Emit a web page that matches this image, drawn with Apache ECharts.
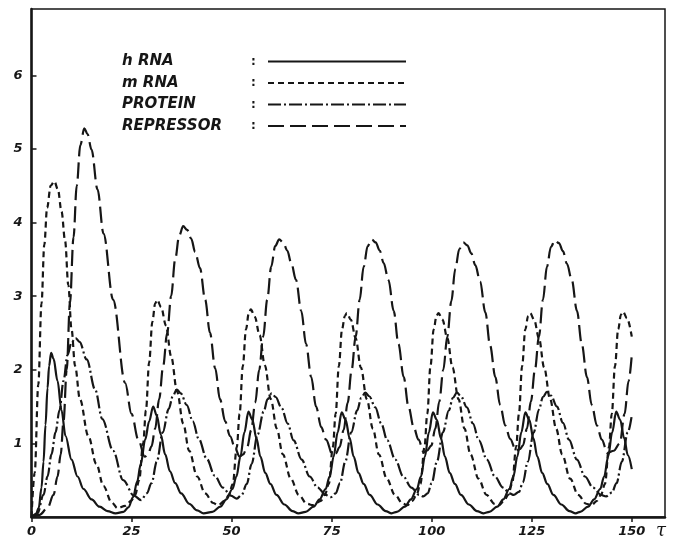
<!DOCTYPE html>
<html>
<head>
<meta charset="utf-8">
<title>hRNA / mRNA / protein / repressor</title>
<script src="https://cdn.jsdelivr.net/npm/echarts@6/dist/echarts.min.js"></script>
<style>
	html, body { margin: 0; padding: 0; background: #fff; }
	#chart { width: 675px; height: 541px; }
</style>
</head>
<body>
<div id="chart"></div>
<script>
// values: [tau, concentration]
var seriesNames = ['h RNA', 'm RNA', 'PROTEIN', 'REPRESSOR'];
var xTicks = [0, 25, 50, 75, 100, 125, 150];
var yTicks = [1, 2, 3, 4, 5, 6];

var hRna = [
	[0,0],[1,0.02],[1.8,0.12],[2.5,0.4],[3,0.75],[3.5,1.25],[4,1.75],[4.4,2.05],[4.9,2.23],[5.5,2.15],[6.5,1.85],[7.5,1.45],[8.5,1.1],[10,0.78],[11.5,0.55],[13,0.38],[15,0.24],[17,0.14],[19,0.08],[21,0.05],
	[23,0.07],[24.2,0.13],[25.4,0.27],[26.4,0.48],[27.3,0.72],[28.4,1.05],[29.4,1.3],[30.4,1.5],[31.3,1.38],[32.3,1.12],[33.4,0.85],[34.6,0.62],[35.9,0.46],[37.4,0.32],[39.4,0.18],[41.4,0.09],[43,0.05],
	[45.2,0.07],[47.2,0.14],[48.7,0.24],[50.2,0.38],[51.2,0.55],[52.2,0.82],[53.2,1.15],[54.2,1.43],[55.2,1.32],[56.2,1.07],[57.2,0.82],[58.4,0.6],[59.7,0.45],[61.2,0.3],[63.2,0.17],[65.2,0.08],[66.7,0.05],
	[68.5,0.07],[70.5,0.14],[72,0.24],[73.5,0.38],[74.5,0.55],[75.5,0.82],[76.5,1.15],[77.5,1.42],[78.5,1.32],[79.5,1.07],[80.5,0.82],[81.7,0.6],[83,0.45],[84.5,0.3],[86.5,0.17],[88.5,0.08],[90,0.05],
	[91.3,0.07],[93.3,0.14],[94.8,0.24],[96.3,0.38],[97.3,0.55],[98.3,0.82],[99.3,1.15],[100.3,1.42],[101.3,1.32],[102.3,1.07],[103.3,0.82],[104.5,0.6],[105.8,0.45],[107.3,0.3],[109.3,0.17],[111.3,0.08],[113,0.05],
	[114.4,0.07],[116.4,0.14],[117.9,0.24],[119.4,0.38],[120.4,0.55],[121.4,0.82],[122.4,1.15],[123.4,1.42],[124.4,1.32],[125.4,1.07],[126.4,0.82],[127.6,0.6],[128.9,0.45],[130.4,0.3],[132.4,0.17],[134.4,0.08],[136,0.05],
	[137.1,0.07],[139.1,0.14],[140.6,0.24],[142.1,0.38],[143.1,0.55],[144.1,0.82],[145.1,1.15],[146.1,1.43],[147.1,1.32],[148.1,1.07],[149,0.84],[150,0.65]
];

var mRna = [
	[0,0],[0.8,0.6],[1.7,1.8],[2.5,2.9],[3.2,3.7],[3.9,4.2],[4.8,4.5],[5.7,4.56],[6.6,4.45],[7.5,4.15],[8.4,3.75],[9.2,3.15],[10,2.55],[10.9,2.05],[12.1,1.6],[14.2,1.1],[16.2,0.72],[18,0.42],[20,0.2],[21.5,0.12],
	[23.4,0.15],[24.9,0.22],[25.9,0.3],[26.9,0.5],[27.9,1.0],[28.6,1.45],[29.4,2.1],[30.2,2.65],[30.9,2.9],[31.4,2.95],[32.4,2.85],[33.6,2.6],[34.9,2.18],[36.4,1.7],[37.9,1.27],[39.4,0.9],[41.4,0.55],[43.4,0.32],[45.4,0.19],[46.6,0.16],
	[48.3,0.22],[49.3,0.3],[50.3,0.45],[51.3,0.95],[52,1.4],[52.8,2.05],[53.6,2.55],[54.3,2.77],[54.8,2.82],[55.8,2.72],[57,2.47],[58.3,2.06],[59.8,1.6],[61.3,1.2],[62.8,0.85],[64.8,0.52],[66.8,0.3],[68.8,0.18],[70.3,0.16],
	[72.3,0.22],[73.3,0.3],[74.3,0.45],[75.3,0.95],[76,1.4],[76.8,2.05],[77.6,2.55],[78.3,2.73],[78.8,2.77],[79.8,2.68],[81,2.43],[82.3,2.03],[83.8,1.6],[85.3,1.2],[86.8,0.85],[88.8,0.52],[90.8,0.3],[92.8,0.18],[93.9,0.16],
	[95.2,0.22],[96.2,0.3],[97.2,0.45],[98.2,0.95],[98.9,1.4],[99.7,2.05],[100.5,2.55],[101.2,2.73],[101.7,2.77],[102.7,2.68],[103.9,2.43],[105.2,2.03],[106.7,1.6],[108.2,1.2],[109.7,0.85],[111.7,0.52],[113.7,0.3],[115.7,0.18],[116.8,0.16],
	[118.1,0.22],[119.1,0.3],[120.1,0.45],[121.1,0.95],[121.8,1.4],[122.6,2.05],[123.4,2.55],[124.1,2.73],[124.6,2.77],[125.6,2.68],[126.8,2.43],[128.1,2.03],[129.6,1.6],[131.1,1.2],[132.6,0.85],[134.6,0.52],[136.6,0.3],[138.6,0.18],[139.9,0.16],
	[141.3,0.22],[142.3,0.3],[143.3,0.45],[144.3,0.95],[145,1.4],[145.8,2.05],[146.6,2.55],[147.3,2.75],[147.8,2.79],[148.8,2.7],[150,2.45]
];

var protein = [
	[0,0],[1.5,0.05],[3,0.3],[4,0.55],[5,0.85],[6,1.15],[7,1.45],[8,1.85],[9,2.2],[10,2.37],[11,2.43],[12,2.38],[13.8,2.14],[15.9,1.73],[17.7,1.33],[20.4,0.9],[22.9,0.5],[25.6,0.29],[27.4,0.23],
	[28.8,0.32],[30,0.46],[31.3,0.75],[32.8,1.15],[34.3,1.47],[35.3,1.64],[36.3,1.73],[37.3,1.68],[38.8,1.52],[40.3,1.3],[41.8,1.06],[43.8,0.79],[45.8,0.56],[47.8,0.4],[49.8,0.29],[51.3,0.25],
	[52.5,0.3],[53.8,0.45],[55,0.72],[56.5,1.12],[58,1.43],[59,1.6],[60,1.68],[61,1.63],[62.5,1.48],[64,1.27],[65.5,1.04],[67.5,0.78],[69.5,0.55],[71.5,0.4],[73.5,0.3],[74.8,0.27],
	[76,0.32],[77.1,0.46],[78.4,0.75],[79.9,1.15],[81.4,1.45],[82.4,1.62],[83.4,1.69],[84.4,1.64],[85.9,1.49],[87.4,1.27],[88.9,1.04],[90.9,0.78],[92.9,0.55],[94.9,0.4],[96.9,0.3],[97.9,0.28],
	[99,0.32],[100,0.46],[101.3,0.75],[102.8,1.15],[104.3,1.45],[105.3,1.62],[106.3,1.69],[107.3,1.64],[108.8,1.49],[110.3,1.27],[111.8,1.04],[113.8,0.78],[115.8,0.55],[117.8,0.4],[119.5,0.32],[120.5,0.3],
	[121.8,0.34],[122.8,0.47],[124,0.75],[125.5,1.15],[126.8,1.46],[127.8,1.63],[128.8,1.7],[129.8,1.65],[131.3,1.5],[132.8,1.28],[134.3,1.05],[136.3,0.78],[138.3,0.55],[140.3,0.4],[142.3,0.3],[143.6,0.28],
	[145,0.33],[146.2,0.46],[147.5,0.75],[149,1.15],[150,1.38]
];

var repressor = [
	[0,0],[2,0.03],[4,0.12],[5.5,0.3],[6.5,0.55],[7.3,0.85],[8,1.3],[8.8,2.0],[9.6,2.9],[10.5,3.8],[11.3,4.5],[12.2,5.05],[13.2,5.28],[14,5.2],[15,4.99],[16.5,4.45],[18,3.85],[20.4,2.95],[23.4,1.82],[25,1.4],[26.7,1.05],[28.3,0.82],
	[29.1,0.85],[30,0.96],[30.9,1.2],[31.9,1.6],[32.9,2.05],[33.9,2.5],[34.9,3.0],[35.9,3.5],[36.9,3.82],[37.9,3.95],[38.9,3.9],[39.9,3.78],[40.9,3.6],[42.1,3.38],[43.4,2.95],[44.6,2.5],[45.9,2.02],[47.1,1.6],[48.4,1.3],[49.6,1.1],[50.9,0.93],[52,0.82],
	[52.9,0.85],[53.9,0.95],[54.9,1.18],[55.9,1.55],[56.9,2.0],[57.9,2.45],[58.9,2.95],[59.9,3.4],[60.9,3.68],[61.9,3.77],[62.9,3.73],[63.9,3.62],[64.9,3.45],[66.1,3.22],[67.4,2.8],[68.6,2.35],[69.9,1.9],[71.1,1.5],[72.4,1.22],[73.6,1.05],[75.2,0.85],
	[76,0.86],[77,0.95],[78,1.18],[79,1.55],[80,2.0],[81,2.45],[82,2.95],[83,3.4],[84,3.68],[85,3.77],[86,3.73],[87,3.62],[88,3.45],[89.2,3.22],[90.5,2.8],[91.7,2.35],[93,1.9],[94.2,1.5],[95.5,1.22],[96.7,1.05],[98,0.88],
	[98.8,0.9],[99.9,0.97],[100.9,1.2],[101.9,1.57],[102.9,2.0],[103.9,2.45],[104.9,2.93],[105.9,3.37],[106.9,3.64],[107.9,3.73],[108.9,3.69],[109.9,3.58],[110.9,3.42],[112.1,3.2],[113.4,2.78],[114.6,2.33],[115.9,1.9],[117.1,1.52],[118.4,1.24],[119.6,1.06],[121.1,0.9],
	[122,0.92],[122.8,0.97],[123.8,1.2],[124.8,1.57],[125.8,2.0],[126.8,2.45],[127.8,2.95],[128.8,3.4],[129.8,3.67],[130.8,3.76],[131.8,3.72],[132.8,3.61],[133.8,3.44],[135,3.22],[136.3,2.8],[137.5,2.35],[138.8,1.9],[140,1.52],[141.3,1.24],[142.5,1.05],[143.9,0.87],
	[145.5,0.9],[147,1.0],[148.2,1.4],[149.2,1.85],[150,2.2]
];

var ink = '#161616';
var labelFont = {color: ink, fontFamily: 'DejaVu Sans', fontWeight: 'bold', fontStyle: 'italic', fontSize: 13};

function makeLine(name, data, dash) {
	return {
		name: name,
		type: 'line',
		data: data,
		symbol: 'none',
		showSymbol: false,
		smooth: 0.35,
		smoothMonotone: 'x',
		silent: true,
		lineStyle: {color: ink, width: 2.2, type: dash, cap: 'butt'}
	};
}

function initChart() {
	var myChart = echarts.init(document.getElementById('chart'), null, {renderer: 'canvas'});
	myChart.setOption({
		animation: false,
		backgroundColor: '#fff',
		grid: {left: 31.5, right: 10, top: 9, bottom: 24, show: true, borderColor: ink, borderWidth: 1.5},
		legend: {
			orient: 'vertical',
			left: 117,
			top: 49,
			align: 'right',
			itemWidth: 138,
			itemHeight: 12,
			itemGap: 6.5,
			selectedMode: false,
			data: seriesNames,
			itemStyle: {opacity: 0},
			formatter: function(n) { return '{n|' + n + '}{c|:}'; },
			textStyle: {
				color: ink,
				rich: {
					n: {width: 129, align: 'left', fontFamily: 'DejaVu Sans', fontWeight: 'bold', fontStyle: 'italic', fontSize: 15, lineHeight: 18, color: ink},
					c: {width: 12, align: 'left', fontFamily: 'DejaVu Sans', fontWeight: 'bold', fontSize: 12, lineHeight: 18, color: ink}
				}
			}
		},
		xAxis: {
			type: 'value',
			min: 0,
			max: 158.3,
			interval: 25,
			name: 'τ',
			nameLocation: 'end',
			nameGap: -9,
			nameTextStyle: {color: ink, fontFamily: 'DejaVu Serif', fontStyle: 'italic', fontSize: 18, verticalAlign: 'top', padding: [5, 0, 0, 0]},
			axisLine: {lineStyle: {color: ink, width: 2.5}},
			axisTick: {length: 5, lineStyle: {color: ink, width: 1.5}},
			axisLabel: Object.assign({margin: 8, showMaxLabel: false, formatter: function(v) { return xTicks.indexOf(v) > -1 ? v : ''; }}, labelFont),
			splitLine: {show: false}
		},
		yAxis: {
			type: 'value',
			min: 0,
			max: 6.9,
			interval: 1,
			axisLine: {show: true, lineStyle: {color: ink, width: 2.5}},
			axisTick: {inside: true, length: 5, lineStyle: {color: ink, width: 1.5}},
			axisLabel: Object.assign({margin: 9, showMinLabel: false, showMaxLabel: false, formatter: function(v) { return yTicks.indexOf(v) > -1 ? v : ''; }}, labelFont),
			splitLine: {show: false}
		},
		series: [
			makeLine(seriesNames[0], hRna, 'solid'),
			makeLine(seriesNames[1], mRna, [6, 4]),
			makeLine(seriesNames[2], protein, [13, 3, 2, 3]),
			makeLine(seriesNames[3], repressor, [16, 6])
		]
	});
}

initChart();
</script>
</body>
</html>
